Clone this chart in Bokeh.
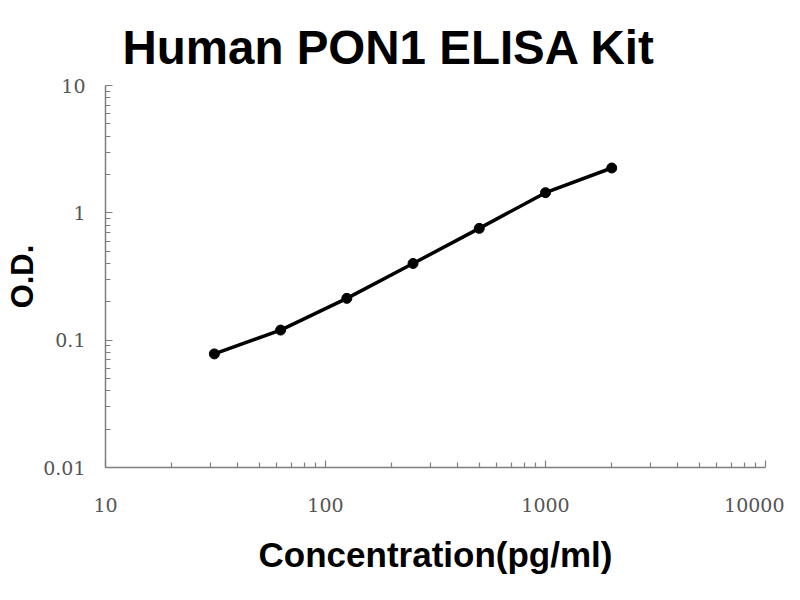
from bokeh.plotting import figure
from bokeh.models import FixedTicker, Title
from bokeh.embed import file_html
from bokeh.resources import INLINE

# Data
concentration = [31.25, 62.5, 125, 250, 500, 1000, 2000]
od = [0.078, 0.12, 0.213, 0.40, 0.755, 1.44, 2.25]

x_major = [10, 100, 1000, 10000]
y_major = [0.01, 0.1, 1, 10]
x_minor = [m * d for d in [10, 100, 1000] for m in range(2, 10)]
y_minor = [m * d for d in [0.01, 0.1, 1] for m in range(2, 10)]

p = figure(width=784, height=584, x_axis_type="log", y_axis_type="log",
           x_range=(10, 10000), y_range=(0.01, 10),
           output_backend="svg", toolbar_location=None,
           min_border_left=105, min_border_right=19, min_border_top=85, min_border_bottom=117)

p.title = Title(text="Human PON1 ELISA Kit", align="left", offset=17, standoff=23,
                text_font="Liberation Sans", text_font_size="47.5px",
                text_font_style="bold", text_color="black")

p.xgrid.visible = False
p.ygrid.visible = False
p.outline_line_color = None
p.background_fill_color = "white"
p.border_fill_color = "white"

p.xaxis.ticker = FixedTicker(ticks=x_major, minor_ticks=x_minor)
p.yaxis.ticker = FixedTicker(ticks=y_major, minor_ticks=y_minor)
p.xaxis.major_label_overrides = {10: "10", 100: "100", 1000: "1000", 10000: "10000"}
p.yaxis.major_label_overrides = {0.01: "0.01", 0.1: "0.1", 1: "1", 10: "10"}

for ax in (p.xaxis[0], p.yaxis[0]):
    ax.axis_line_color = "#7f7f7f"
    ax.axis_line_width = 1.5
    ax.major_tick_line_color = "#7f7f7f"
    ax.minor_tick_line_color = "#7f7f7f"
    ax.major_tick_line_width = 1.2
    ax.minor_tick_line_width = 1.2
    ax.major_tick_in = 7
    ax.major_tick_out = 0
    ax.minor_tick_in = 5
    ax.minor_tick_out = 0
    ax.major_label_text_font = "DejaVu Serif"
    ax.major_label_text_font_size = "19px"
    ax.major_label_text_color = "#555555"
    ax.axis_label_text_font = "Liberation Sans"
    ax.axis_label_text_font_style = "bold"
    ax.axis_label_text_color = "black"

p.xaxis.axis_label = "Concentration(pg/ml)"
p.yaxis.axis_label = "O.D."
p.xaxis.axis_label_text_font_size = "35px"
p.yaxis.axis_label_text_font_size = "31px"
p.xaxis.major_label_standoff = 30
p.xaxis.axis_label_standoff = 20
p.yaxis.major_label_standoff = 20
p.yaxis.axis_label_standoff = 0

p.line(concentration, od, line_color="black", line_width=3.5)
p.scatter(concentration, od, size=10, fill_color="black", line_color="black")

open("out.html", "w").write(file_html(p, INLINE))
